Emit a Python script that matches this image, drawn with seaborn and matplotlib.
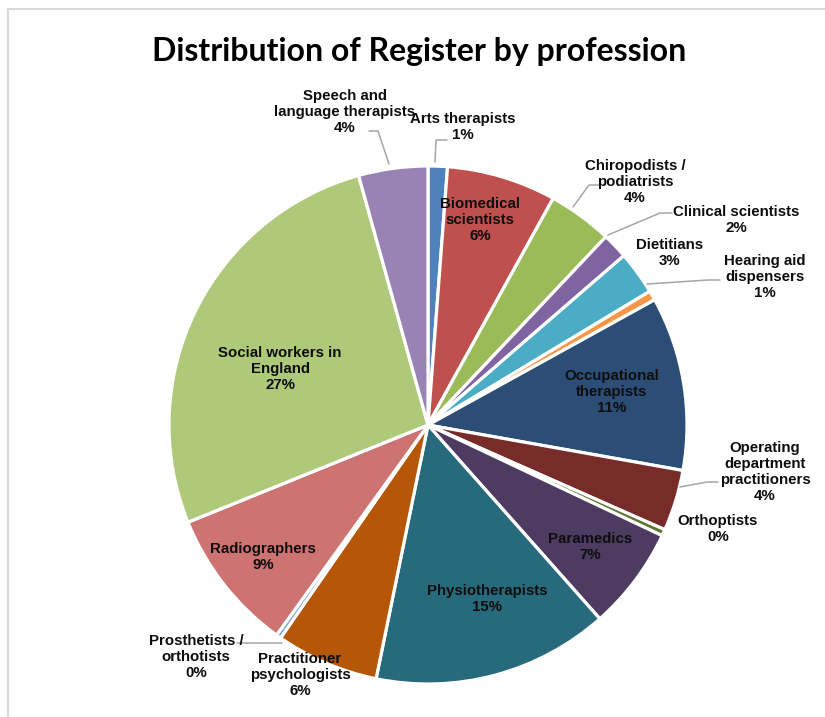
import matplotlib
matplotlib.use("Agg")
import matplotlib.pyplot as plt
import seaborn as sns

# share of the register, percent
professions = ["Arts therapists", "Biomedical\nscientists", "Chiropodists /\npodiatrists",
               "Clinical scientists", "Dietitians", "Hearing aid\ndispensers",
               "Occupational\ntherapists", "Operating\ndepartment\npractitioners",
               "Orthoptists", "Paramedics", "Physiotherapists", "Practitioner\npsychologists",
               "Prosthetists /\northotists", "Radiographers", "Social workers in\nEngland",
               "Speech and\nlanguage therapists"]
shares = [1.2, 6.8, 4.0, 1.6, 2.7, 0.6, 10.8, 3.8, 0.4, 6.4, 14.7, 6.4, 0.3, 8.9, 26.7, 4.3]
pct_labels = ["1%", "6%", "4%", "2%", "3%", "1%", "11%", "4%", "0%", "7%", "15%", "6%",
              "0%", "9%", "27%", "4%"]
colors = ["#4F81BD", "#C0504D", "#9BBB59", "#8064A2", "#4BACC6", "#F79646",
          "#2C4D75", "#772C2A", "#5F7530", "#4D3B62", "#276A7C", "#B65708",
          "#729ACA", "#CD7371", "#AFC97A", "#9983B5"]

sns.set_style("white")
plt.rcParams['font.family'] = ['Liberation Sans', 'DejaVu Sans']

W, H = 825, 717
fig = plt.figure(figsize=(W / 100, H / 100), dpi=100)
ax = fig.add_axes([0, 0, 1, 1])

def fy(y):
    return H - y

cx, cy, r = 428, 425, 259
ax.pie(shares, colors=colors, startangle=90, counterclock=False,
       center=(cx, fy(cy)), radius=r, frame=True,
       wedgeprops={"edgecolor": "white", "linewidth": 2.3})
ax.set_xlim(0, W)
ax.set_ylim(0, H)
ax.set_aspect("equal")
ax.axis("off")

# label placement (image pixel coords of text centre)
label_pos = [(463, 127), (480, 220), (635, 182), (736, 220), (670, 253), (765, 277),
             (612, 392), (765, 472), (718, 529), (590, 547), (487, 599), (300, 675),
             (196, 657), (263, 557), (280, 369), (345, 112)]
for name, pct, (x, y) in zip(professions, pct_labels, label_pos):
    ax.text(x, fy(y), name + "\n" + pct, ha="center", va="center",
            fontsize=10.8, fontweight="bold", linespacing=1.17, color="#0d0d0d")

leaders = [
    [(447, 140), (436, 140), (435, 162)],
    [(600, 185), (589, 185), (573, 207)],
    [(672, 213), (660, 213), (608, 235)],
    [(720, 280), (708, 280), (647, 284)],
    [(718, 482), (707, 482), (680, 487)],
    [(237, 643), (282, 643)],
    [(369, 131), (378, 131), (389, 164)],
]
for pts in leaders:
    ax.plot([p[0] for p in pts], [fy(p[1]) for p in pts], color="#a6a6a6", lw=1.1)

ax.text(419, fy(52), "Distribution of Register by profession", ha="center", va="center",
        fontsize=23, fontweight="bold", family=["Lato", "DejaVu Sans"], color="black")

# chart area border
ax.plot([8, 8, W + 5], [-5, fy(9), fy(9)], color="#d9d9d9", lw=1.5, clip_on=False)

fig.savefig("out.png", dpi=100)
